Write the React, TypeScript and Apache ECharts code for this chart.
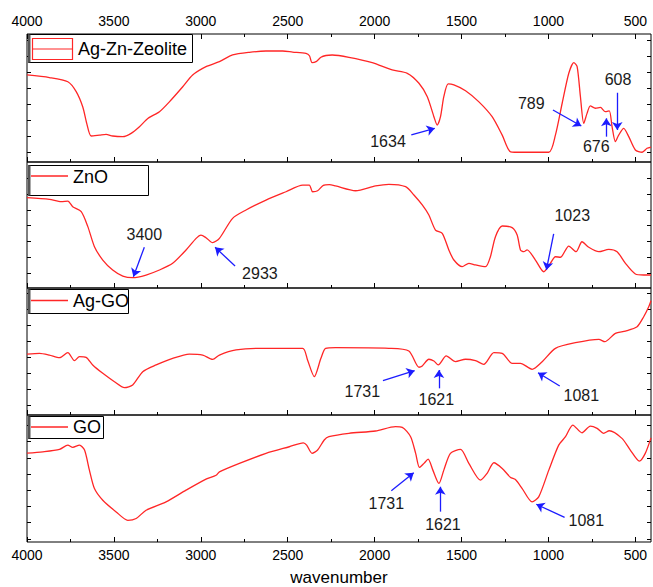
import React, { useEffect, useRef } from "react";
import * as echarts from "echarts";

// ---------- data ----------
const X_MIN = 410;
const X_MAX = 4000;
const majorTicks = [4000, 3500, 3000, 2500, 2000, 1500, 1000, 500];
const minorTicks = [3750, 3250, 2750, 2250, 1750, 1250, 750];

const seriesNames = ["Ag-Zn-Zeolite", "ZnO", "Ag-GO", "GO"];

// [wavenumber, transmittance (a.u., 0-100 within each panel)]
const zeolite: number[][] = [
  [4000, 68], [3871, 66], [3765, 62.7], [3717, 55], [3679, 43], [3656, 30], [3631, 20.3],
  [3583, 21], [3545, 21.6], [3507, 20.3], [3449, 19.8], [3401, 22.4], [3353, 27.6],
  [3305, 34], [3238, 39.3], [3181, 47], [3104, 58.8], [3047, 68], [2970, 74.5],
  [2893, 78.4], [2817, 83.6], [2721, 85.7], [2625, 86.7], [2529, 86.7], [2472, 85.9],
  [2395, 84.9], [2375, 83], [2360, 77.6], [2337, 78.4], [2309, 81.8], [2280, 83.2],
  [2244, 83.6], [2148, 81.8], [2014, 77.6], [1899, 71.9], [1812, 69.3], [1745, 61.5],
  [1697, 51], [1659, 35.4], [1640, 28.9], [1621, 35.4], [1602, 51], [1577, 61],
  [1544, 60.2], [1477, 55.7], [1400, 47], [1324, 35.4], [1266, 21], [1218, 8],
  [1151, 7.6], [998, 7.6], [960, 21], [921, 45.9], [883, 69.3], [854, 77.6], [835, 74.5],
  [816, 51], [797, 30.2], [778, 38], [759, 43.8], [730, 42], [701, 42.7], [673, 39.3],
  [650, 40], [634, 27.6], [615, 15.9], [596, 21], [567, 26.3], [538, 19.8], [500, 9.4],
  [461, 7.6], [433, 10.7], [410, 11.7],
];

const zno: number[][] = [
  [4000, 71.7], [3871, 70.4], [3803, 68.5], [3765, 69], [3737, 64.5], [3688, 60.6],
  [3650, 48.7], [3612, 32.8], [3564, 22.2], [3507, 14.3], [3449, 9.5], [3392, 8.2],
  [3315, 10.3], [3238, 14.3], [3162, 19.6], [3085, 30.2], [3027, 39.4], [2999, 42],
  [2970, 39.9], [2932, 36], [2893, 39.4], [2817, 55.3], [2740, 61.9], [2625, 69.8],
  [2510, 76.4], [2414, 81.7], [2376, 81.7], [2357, 76.4], [2328, 77.2], [2295, 81.5],
  [2261, 82], [2225, 81], [2110, 77.2], [1995, 81], [1918, 82.3], [1822, 80.4],
  [1774, 73.8], [1726, 65.9], [1688, 57.9], [1650, 46], [1611, 43.4], [1573, 30.2],
  [1544, 22.2], [1496, 16.9], [1458, 19.6], [1420, 18.3], [1362, 16.9], [1334, 24.8],
  [1305, 40.7], [1266, 49.2], [1209, 47.9], [1180, 42], [1161, 30.2], [1142, 28.8],
  [1123, 30.2], [1075, 22.2], [1027, 12.9], [989, 19.6], [960, 24.8], [931, 24.4],
  [883, 33.3], [841, 28.8], [807, 36.7], [768, 32.3], [710, 28.8], [653, 30.7],
  [605, 28.8], [557, 19.6], [500, 11.1], [452, 10.3], [410, 10.3],
];

const agGo: number[][] = [
  [4000, 48], [3928, 48.6], [3871, 47.2], [3813, 45.1], [3765, 49.1], [3727, 42.8],
  [3698, 45.9], [3660, 45.4], [3622, 39.4], [3564, 32.8], [3497, 26.2], [3439, 21.5],
  [3392, 23.6], [3334, 34.1], [3257, 39.4], [3162, 44.6], [3066, 48], [2989, 47.2],
  [2932, 43.8], [2893, 47.2], [2797, 51.2], [2663, 52.5], [2414, 52.5], [2386, 43.3],
  [2347, 30.2], [2309, 44.6], [2282, 52.5], [2225, 53], [1918, 52.5], [1803, 50.4],
  [1745, 37.6], [1726, 38.6], [1688, 43.9], [1659, 42.5], [1634, 39.4], [1588, 46.5],
  [1535, 42], [1477, 43.9], [1420, 42.8], [1372, 39.9], [1314, 49.1], [1266, 48.6],
  [1209, 40.7], [1161, 40.7], [1094, 36], [1036, 42], [960, 52.5], [845, 56.9],
  [710, 59.6], [676, 57.7], [615, 64.3], [557, 66.1], [490, 69.5], [452, 77.4],
  [423, 85.3], [410, 90],
];

const go: number[][] = [
  [4000, 70], [3909, 71], [3813, 72.9], [3765, 76.3], [3737, 74.5], [3698, 76.3],
  [3669, 72.4], [3641, 56.6], [3612, 42.1], [3564, 32.9], [3487, 23.7], [3420, 17.1],
  [3372, 18.5], [3315, 25], [3200, 31.6], [3085, 40.8], [2970, 49.5], [2912, 52.6],
  [2893, 55.2], [2778, 61.9], [2625, 69.8], [2491, 75], [2410, 78.1], [2391, 76.3],
  [2360, 69.8], [2328, 72.4], [2290, 80.3], [2263, 82.9], [2148, 85.6], [1995, 87.4],
  [1880, 90.8], [1841, 90.3], [1793, 82.9], [1764, 69.8], [1742, 58.7], [1716, 61.9],
  [1692, 65.3], [1665, 56.6], [1630, 46.1], [1602, 56.6], [1564, 69.8], [1506, 72.9],
  [1458, 61.9], [1391, 48.7], [1353, 54], [1314, 62.4], [1266, 57.9], [1218, 50.8],
  [1190, 49.2], [1151, 42.1], [1094, 31.6], [1056, 35.5], [998, 56.6], [941, 76.3],
  [902, 82.9], [860, 92.1], [807, 86], [759, 91.3], [720, 89.5], [682, 85.6],
  [650, 87.6], [577, 81.6], [529, 72.4], [477, 63.7], [443, 69.8], [410, 82],
];

const panelData = [zeolite, zno, agGo, go];

// y tick positions (a.u.) per panel
const yTicks = [
  [7.8, 20.2, 32.7, 45.1, 57.5, 69.9, 82.3, 94.8],
  [11.7, 24.3, 36.9, 49.5, 62.1, 74.8, 87.4],
  [7.9, 20.4, 32.9, 45.4, 58, 70.5, 83, 95.5],
  [2.4, 15.2, 27.9, 40.7, 53.5, 66.3, 79.1, 91.9],
];

// peak annotations: label, text anchor [wn, T], arrow start, arrow end
type Note = { label: string; text: number[]; from: number[]; to: number[] };
const notes: Note[][] = [
  [
    { label: "1634", text: [1923, 15.9], from: [1789, 21.1], to: [1654, 26.3] },
    { label: "789", text: [1099, 45.9], from: [974, 40.6], to: [811, 28.1] },
    { label: "676", text: [725, 12], from: [667, 19.8], to: [667, 34.1] },
    { label: "608", text: [600, 64.6], from: [604, 54.1], to: [604, 25] },
  ],
  [
    { label: "3400", text: [3325, 42.1], from: [3325, 32.3], to: [3388, 9] },
    { label: "2933", text: [2660, 11.7], from: [2803, 17.5], to: [2918, 32.3] },
    { label: "1023", text: [863, 57.9], from: [970, 42.9], to: [1012, 14.3] },
  ],
  [
    { label: "1731", text: [2071, 18.3], from: [1952, 27], to: [1770, 34.9] },
    { label: "1621", text: [1645, 12.4], from: [1630, 21], to: [1630, 35.4] },
    { label: "1081", text: [811, 15.7], from: [935, 22.8], to: [1060, 33.3] },
  ],
  [
    { label: "1731", text: [1933, 30.5], from: [1904, 40.4], to: [1775, 54.6] },
    { label: "1621", text: [1607, 13.4], from: [1622, 23.9], to: [1622, 43.5] },
    { label: "1081", text: [782, 17.3], from: [907, 19.4], to: [1070, 29.7] },
  ],
];

// ---------- layout / style ----------
const FONT = '"Liberation Sans", Arial, Helvetica, sans-serif';
const RED = "#ff2626";
const BLUE = "#1c1cff";
const grids = [
  { top: 34, height: 128 },
  { top: 162, height: 126 },
  { top: 288, height: 127 },
  { top: 415, height: 127 },
];
const legendBoxes = [
  { x: 28.5, y: 34.5, w: 164, h: 28, lineY: 49, textY: 48.5, box: true },
  { x: 28.5, y: 165.5, w: 120, h: 30, lineY: 176, textY: 176.5, box: false },
  { x: 28.5, y: 289.5, w: 100, h: 24, lineY: 300.5, textY: 300.5, box: false },
  { x: 28.5, y: 416.5, w: 75, h: 22, lineY: 427, textY: 427, box: false },
];

export default function App() {
  const ref = useRef<HTMLDivElement>(null);

  useEffect(() => {
    const chart = echarts.init(ref.current!, null, { renderer: "svg" });

    const xBase = {
      type: "value",
      min: X_MIN,
      max: X_MAX,
      inverse: true,
      splitLine: { show: false },
      axisLine: { show: false },
    };
    const tickStyle = { color: "#000", width: 1 };
    const labelStyle = {
      fontSize: 14,
      color: "#000",
      fontFamily: FONT,
      margin: 6,
      formatter: (v: number) => String(v),
    };

    const xAxis: any[] = [];
    // 0..3 major bottom
    grids.forEach((_, i) => {
      xAxis.push({
        ...xBase,
        gridIndex: i,
        position: "bottom",
        axisTick: { show: true, inside: true, length: 5, customValues: majorTicks, lineStyle: tickStyle },
        axisLabel: i === 3 ? { show: true, customValues: majorTicks, ...labelStyle } : { show: false },
        name: i === 3 ? "wavenumber" : "",
        nameLocation: "middle",
        nameGap: 27,
        nameTextStyle: { fontSize: 17, color: "#000", fontFamily: FONT },
      });
    });
    // 4..7 minor bottom
    grids.forEach((_, i) => {
      xAxis.push({
        ...xBase,
        gridIndex: i,
        position: "bottom",
        axisTick: { show: true, inside: true, length: 3, customValues: minorTicks, lineStyle: tickStyle },
        axisLabel: { show: false },
      });
    });
    // 8, 9 top of first panel
    xAxis.push({
      ...xBase,
      gridIndex: 0,
      position: "top",
      axisTick: { show: true, inside: true, length: 5, customValues: majorTicks, lineStyle: tickStyle },
      axisLabel: { show: true, customValues: majorTicks, ...labelStyle },
    });
    xAxis.push({
      ...xBase,
      gridIndex: 0,
      position: "top",
      axisTick: { show: true, inside: true, length: 3, customValues: minorTicks, lineStyle: tickStyle },
      axisLabel: { show: false },
    });

    const yAxis: any[] = [];
    ["left", "right"].forEach((pos) => {
      grids.forEach((_, i) => {
        yAxis.push({
          type: "value",
          gridIndex: i,
          position: pos,
          min: 0,
          max: 100,
          splitLine: { show: false },
          axisLine: { show: false },
          axisLabel: { show: false },
          axisTick: { show: true, inside: true, length: 4, customValues: yTicks[i], lineStyle: tickStyle },
        });
      });
    });

    const series: any[] = panelData.map((data, i) => ({
      type: "line",
      name: seriesNames[i],
      xAxisIndex: i,
      yAxisIndex: i,
      data,
      showSymbol: false,
      symbol: "none",
      smooth: 0.25,
      lineStyle: { color: RED, width: 1.3 },
      z: 3,
      markLine: {
        silent: true,
        symbol: ["none", "arrow"],
        symbolSize: 8,
        label: { show: false },
        lineStyle: { color: BLUE, width: 1.3, type: "solid" },
        data: notes[i].map((n) => [{ coord: n.from }, { coord: n.to }]),
      },
      markPoint: {
        silent: true,
        symbol: "circle",
        symbolSize: 1,
        itemStyle: { color: "rgba(0,0,0,0)" },
        label: {
          show: true,
          position: "inside",
          formatter: "{b}",
          fontSize: 16,
          color: "#1a1a1a",
          fontFamily: FONT,
        },
        data: notes[i].map((n) => ({ name: n.label, coord: n.text })),
      },
    }));

    const graphic: any[] = [];
    legendBoxes.forEach((b, i) => {
      graphic.push({
        type: "rect",
        z: 100,
        shape: { x: b.x, y: b.y, width: b.w, height: b.h },
        style: { fill: "#fff", stroke: "#000", lineWidth: 1 },
      });
      graphic.push({
        type: "rect",
        z: 101,
        shape: { x: b.x - 0.5, y: b.y, width: 2.5, height: b.h },
        style: { fill: "#555" },
      });
      if (b.box) {
        graphic.push({
          type: "rect",
          z: 101,
          shape: { x: 32.5, y: 38.5, width: 40, height: 21 },
          style: { fill: "none", stroke: RED, lineWidth: 1.2 },
        });
        graphic.push({
          type: "line",
          z: 101,
          shape: { x1: 32.5, y1: b.lineY, x2: 72.5, y2: b.lineY },
          style: { stroke: RED, lineWidth: 1.2 },
        });
      } else {
        graphic.push({
          type: "line",
          z: 101,
          shape: { x1: 31, y1: b.lineY, x2: 68, y2: b.lineY },
          style: { stroke: RED, lineWidth: 1.3 },
        });
      }
      graphic.push({
        type: "text",
        z: 101,
        x: b.box ? 78 : 73,
        y: b.textY,
        style: {
          text: seriesNames[i],
          font: `18px ${FONT}`,
          fill: "#000",
          align: "left",
          verticalAlign: "middle",
          textAlign: "left",
          textVerticalAlign: "middle",
        },
      });
    });

    chart.setOption({
      animation: false,
      backgroundColor: "#fff",
      grid: grids.map((g) => ({
        left: 27,
        width: 624,
        top: g.top,
        height: g.height,
        show: true,
        borderColor: "#000",
        borderWidth: 1,
        backgroundColor: "transparent",
        containLabel: false,
      })),
      xAxis,
      yAxis,
      series,
      graphic,
    });

    return () => chart.dispose();
  }, []);

  return (
    <div
      ref={ref}
      style={{ position: "fixed", left: 0, top: 0, width: 653, height: 587 }}
    />
  );
}
